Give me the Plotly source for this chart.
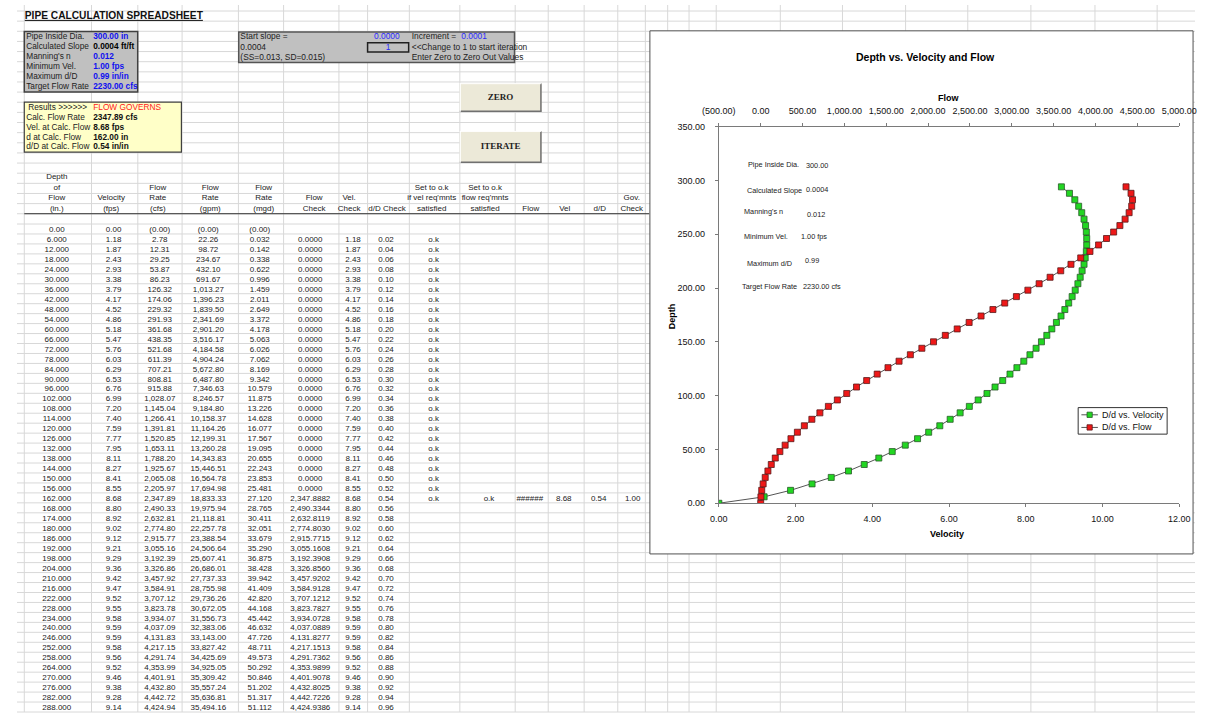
import plotly.graph_objects as go

W, H = 1213, 717

# ---------------- data ----------------
depth_in = [0, 6, 12, 18, 24, 30, 36, 42, 48, 54, 60, 66, 72, 78, 84, 90, 96, 102, 108, 114,
            120, 126, 132, 138, 144, 150, 156, 162, 168, 174, 180, 186, 192, 198, 204, 210,
            216, 222, 228, 234, 240, 246, 252, 258, 264, 270, 276, 282, 288, 294]
velocity_fps = [0.00, 1.18, 1.87, 2.43, 2.93, 3.38, 3.79, 4.17, 4.52, 4.86, 5.18, 5.47, 5.76,
                6.03, 6.29, 6.53, 6.76, 6.99, 7.20, 7.40, 7.59, 7.77, 7.95, 8.11, 8.27, 8.41,
                8.55, 8.68, 8.80, 8.92, 9.02, 9.12, 9.21, 9.29, 9.36, 9.42, 9.47, 9.52, 9.55,
                9.58, 9.59, 9.59, 9.58, 9.56, 9.52, 9.46, 9.38, 9.28, 9.14, 8.93]
flow_cfs = [0.00, 2.78, 12.31, 29.25, 53.87, 86.23, 126.32, 174.06, 229.32, 291.93, 361.68,
            438.35, 521.68, 611.39, 707.21, 808.81, 915.88, 1028.07, 1145.04, 1266.41, 1391.81,
            1520.85, 1653.11, 1788.20, 1925.67, 2065.08, 2205.97, 2347.89, 2490.33, 2632.81,
            2774.80, 2915.77, 3055.16, 3192.39, 3326.86, 3457.92, 3584.91, 3707.12, 3823.78,
            3934.07, 4037.09, 4131.83, 4217.15, 4291.74, 4353.99, 4401.91, 4432.80, 4442.72,
            4424.94, 4365.00]
flow_gpm = [0.00, 22.26, 98.72, 234.67, 432.10, 691.67, 1013.27, 1396.23, 1839.50, 2341.69,
            2901.20, 3516.17, 4184.58, 4904.24, 5672.80, 6487.80, 7346.63, 8246.57, 9184.80,
            10158.37, 11164.26, 12199.31, 13260.28, 14343.83, 15446.51, 16564.78, 17694.98,
            18833.33, 19975.94, 21118.81, 22257.78, 23388.54, 24506.64, 25607.41, 26686.01,
            27737.33, 28755.98, 29736.26, 30672.05, 31556.73, 32383.06, 33143.00, 33827.42,
            34425.69, 34925.05, 35309.42, 35557.24, 35636.81, 35494.16]
flow_mgd = [0.00, 0.032, 0.142, 0.338, 0.622, 0.996, 1.459, 2.011, 2.649, 3.372, 4.178, 5.063,
            6.026, 7.062, 8.169, 9.342, 10.579, 11.875, 13.226, 14.628, 16.077, 17.567, 19.095,
            20.655, 22.243, 23.853, 25.481, 27.120, 28.765, 30.411, 32.051, 33.679, 35.290,
            36.875, 38.428, 39.942, 41.409, 42.820, 44.168, 45.442, 46.632, 47.726, 48.711,
            49.573, 50.292, 50.846, 51.202, 51.317, 51.112]
flow_check_tail = [2347.8882, 2490.3344, 2632.8119, 2774.8030, 2915.7715, 3055.1608, 3192.3908,
                   3326.8560, 3457.9202, 3584.9128, 3707.1212, 3823.7827, 3934.0728, 4037.0889,
                   4131.8277, 4217.1513, 4291.7362, 4353.9899, 4401.9078, 4432.8025, 4442.7226,
                   4424.9386]
d_over_D = [0.02, 0.04, 0.06, 0.08, 0.10, 0.12, 0.14, 0.16, 0.18, 0.20, 0.22, 0.24, 0.26, 0.28,
            0.30, 0.32, 0.34, 0.36, 0.38, 0.40, 0.42, 0.44, 0.46, 0.48, 0.50, 0.52, 0.54, 0.56,
            0.58, 0.60, 0.62, 0.64, 0.66, 0.68, 0.70, 0.72, 0.74, 0.76, 0.78, 0.80, 0.82, 0.84,
            0.86, 0.88, 0.90, 0.92, 0.94, 0.96]
n_ok_rows = 27          # rows 6.000 .. 162.000 flagged "o.k"
gov_row_index = 27      # row 162.000
gov_row_values = ["o.k", "######", "8.68", "0.54", "1.00"]

series_names = ["D/d vs. Velocity", "D/d vs. Flow"]
velocity_ticks = [0, 2, 4, 6, 8, 10, 12]
flow_ticks = [-500, 0, 500, 1000, 1500, 2000, 2500, 3000, 3500, 4000, 4500, 5000]
flow_tick_text = ["(500.00)", "0.00", "500.00", "1,000.00", "1,500.00", "2,000.00", "2,500.00",
                  "3,000.00", "3,500.00", "4,000.00", "4,500.00", "5,000.00"]
depth_ticks = [0, 50, 100, 150, 200, 250, 300, 350]

input_labels = ["Pipe Inside Dia.", "Calculated Slope", "Manning's n", "Minimum Vel.",
                "Maximum d/D", "Target Flow Rate"]
input_values = ["300.00 in", "0.0004 ft/ft", "0.012", "1.00 fps", "0.99 in/in", "2230.00 cfs"]
input_value_colors = ["#1010f0", "#000000", "#1010f0", "#1010f0", "#1010f0", "#1010f0"]
result_labels = ["Calc. Flow Rate", "Vel. at Calc. Flow", "d at Calc. Flow", "d/D at Calc. Flow"]
result_values = ["2347.89 cfs", "8.68 fps", "162.00 in", "0.54 in/in"]
chart_note_labels = ["Pipe Inside Dia.", "Calculated Slope", "Manning's n", "Minimum Vel.",
                     "Maximum d/D", "Target Flow Rate"]
chart_note_values = ["300.00", "0.0004", "0.012", "1.00 fps", "0.99", "2230.00 cfs"]

FONT = "Liberation Sans, Arial, sans-serif"
GREEN, GREEN_EDGE = "#22d622", "#2a5a2a"
RED, RED_EDGE = "#ee1818", "#5a1a1a"
LINE = "#555555"

def px(x):
    return x / W

def py(y):
    return 1 - y / H

fig = go.Figure()

# ---------------- chart traces ----------------
fig.add_trace(go.Scatter(
    x=velocity_fps, y=depth_in, xaxis="x", yaxis="y", mode="lines+markers",
    name=series_names[0], showlegend=False,
    line=dict(color=LINE, width=1),
    marker=dict(symbol="square", size=6, color=GREEN, line=dict(color=GREEN_EDGE, width=0.8)),
    hoverinfo="skip"))
fig.add_trace(go.Scatter(
    x=flow_cfs, y=depth_in, xaxis="x2", yaxis="y", mode="lines+markers",
    name=series_names[1], showlegend=False,
    line=dict(color=LINE, width=1),
    marker=dict(symbol="square", size=6, color=RED, line=dict(color=RED_EDGE, width=0.8)),
    hoverinfo="skip"))

# ---------------- spreadsheet text (pixel-coordinate subplot) ----------------
def txt(xs, ys, texts, size=8, color="#111111", pos="middle center", family=FONT):
    fig.add_trace(go.Scatter(
        x=xs, y=ys, text=texts, mode="text", textposition=pos,
        textfont=dict(size=size, color=color, family=family),
        xaxis="x5", yaxis="y5", showlegend=False, hoverinfo="skip", cliponaxis=False))

# title
txt([8], [11.5], ["<b><u>PIPE CALCULATION SPREADSHEET</u></b>"], size=10.2, pos="middle right")

# input box
in_rows = [32.3, 42.5, 52.7, 62.6, 72.6, 82.8]
txt([9.5] * 6, in_rows, input_labels, size=8.3, color="#222222", pos="middle right")
for yv, tv, cv in zip(in_rows, input_values, input_value_colors):
    txt([78.5], [yv], ["<b>" + tv + "</b>"], size=8.3, color=cv, pos="middle right")

# results box
res_rows = [114.2, 124.3, 134.4, 144.4]
txt([11.5], [104.1], ["Results >>>>>>"], size=8.3, color="#222222", pos="middle right")
txt([78.5], [104.1], ["FLOW GOVERNS"], size=8.3, color="#ff2020", pos="middle right")
txt([9.5] * 4, res_rows, result_labels, size=8.3, color="#222222", pos="middle right")
txt([78.5] * 4, res_rows, ["<b>" + v + "</b>" for v in result_values], size=8.3,
    color="#111111", pos="middle right")

# middle box
txt([230] * 3, [32.7, 43.3, 53.4], ["Start slope =", "0.0004", "(SS=0.013, SD=0.015)"],
    size=8.4, color="#222222", pos="middle right")
txt([394], [32.7], ["0.0000"], size=8.4, color="#2a2aff", pos="middle left")
txt([382], [43.2], ["1"], size=8.4, color="#2a2aff")
txt([406.5], [32.7], ["Increment ="], size=8.4, color="#222222", pos="middle right")
txt([457.5], [32.7], ["0.0001"], size=8.4, color="#2a2aff", pos="middle right")
txt([406.5] * 2, [43.3, 53.4], ["<<Change to 1 to start iteration", "Enter Zero to Zero Out Values"],
    size=8.4, color="#222222", pos="middle right")

# buttons
txt([498, 498], [94, 144], ["<b>ZERO</b>", "<b>ITERATE</b>"], size=9,
    color="#222222", family="Liberation Serif, Times New Roman, serif")

# table header
hdr_y = [174.5, 185.2, 195.9, 206.4]
headers = [
    (41, ["Depth", "of", "Flow", "(in.)"]),
    (97, ["", "", "Velocity", "(fps)"]),
    (145, ["", "Flow", "Rate", "(cfs)"]),
    (199, ["", "Flow", "Rate", "(gpm)"]),
    (254, ["", "Flow", "Rate", "(mgd)"]),
    (306, ["", "", "Flow", "Check"]),
    (342, ["", "", "Vel.", "Check"]),
    (381, ["", "", "", "d/D Check"]),
    (427, ["", "Set to o.k", "if vel req'mnts", "satisfied"]),
    (482, ["", "Set to o.k", "flow req'mnts", "satisfied"]),
    (529, ["", "", "", "Flow"]),
    (564, ["", "", "", "Vel"]),
    (600, ["", "", "", "d/D"]),
    (633, ["", "", "Gov.", "Check"]),
]
for cx, lines in headers:
    ys = [y for y, t in zip(hdr_y, lines) if t]
    ts = [t for t in lines if t]
    txt([cx] * len(ts), ys, ts, size=8, color="#222222")

# table body
n_rows = len(flow_gpm)
row_y = [228.3 + 10.1 * i for i in range(n_rows)]
depth_txt = ["0.00"] + [f"{d:.3f}" for d in depth_in[1:n_rows]]
vel_txt = [f"{v:.2f}" for v in velocity_fps[:n_rows]]
cfs_txt = ["(0.00)"] + [f"{v:,.2f}" for v in flow_cfs[1:n_rows]]
gpm_txt = ["(0.00)"] + [f"{v:,.2f}" for v in flow_gpm[1:n_rows]]
mgd_txt = ["(0.00)"] + [f"{v:.3f}" for v in flow_mgd[1:n_rows]]
fchk_txt = [""] + ["0.0000"] * (gov_row_index - 1) + [f"{v:,.4f}" for v in flow_check_tail]
vchk_txt = [""] + vel_txt[1:]
dD_txt = [""] + [f"{v:.2f}" for v in d_over_D]
ok_txt = [""] + ["o.k"] * n_ok_rows + [""] * (n_rows - 1 - n_ok_rows)

cols = [(41, depth_txt), (99.5, vel_txt), (147, cfs_txt), (197, gpm_txt), (250, mgd_txt),
        (302, fchk_txt), (346, vchk_txt), (380, dD_txt), (429, ok_txt)]
for cx, col in cols:
    ys = [y for y, t in zip(row_y, col) if t]
    ts = [t for t in col if t]
    txt([cx] * len(ts), ys, ts, size=8, color="#222222")
txt([486, 528, 563, 599, 634], [row_y[gov_row_index]] * 5, gov_row_values, size=8, color="#222222")

# ---------------- shapes (paper coords) ----------------
shapes = []

def rect(x0, y0, x1, y1, fill, line_color=None, lw=1):
    shapes.append(dict(type="rect", xref="paper", yref="paper", x0=px(x0), x1=px(x1),
                       y0=py(y1), y1=py(y0), fillcolor=fill,
                       line=dict(color=line_color or fill, width=lw if line_color else 0),
                       layer="below"))

def hline(x0, x1, y, color, lw=1):
    shapes.append(dict(type="line", xref="paper", yref="paper", x0=px(x0), x1=px(x1),
                       y0=py(y), y1=py(y), line=dict(color=color, width=lw), layer="below"))

def vline(x, y0, y1, color, lw=1):
    shapes.append(dict(type="line", xref="paper", yref="paper", x0=px(x), x1=px(x),
                       y0=py(y0), y1=py(y1), line=dict(color=color, width=lw), layer="below"))

GRID = "#d8d8d8"
col_edges = [7.5, 76.7, 124.4, 170, 228, 274.5, 331.5, 361, 404, 456, 513, 547, 584, 618.6, 647,
             670, 692, 720, 786, 850, 915, 979, 1044, 1110, 1174]
row_edges = [6.1 + 10.28 * k for k in range(21)] + [212 + 10.1 * k for k in range(1, 51)]
for ye in row_edges:
    hline(0, W, ye, GRID)
for xe in col_edges:
    vline(xe, 0, H, GRID)

# input / result / control boxes
rect(7.5, 26.9, 124.3, 88.3, "#c0c0c0", "#404040", 1.5)
rect(7.5, 98.4, 169.3, 149.2, "#ffffc8", "#404040", 1.2)
rect(228.3, 27.3, 512.3, 58.3, "#c0c0c0", "#555555", 1.5)
rect(361, 38.3, 403.3, 47.7, "#c0c0c0", "#202020", 1.5)

# buttons
for (y0, y1) in [(79.3, 108.3), (127.7, 160)]:
    rect(456, y0, 540, y1, "#ece9d8")
    hline(456, 540, y1 - 0.5, "#707070", 1.5)
    vline(539.5, y0, y1, "#707070", 1.5)
    hline(456, 540, y0 + 0.5, "#ffffff", 1)
    vline(456.5, y0, y1, "#ffffff", 1)

# header underline
hline(7.5, 651, 211.7, "#303030", 1)

# chart frame
rect(651.7, 26.2, 1211, 556.7, "#ffffff", "#505050", 1)

# ---------------- legend (drawn as a small boxed key) ----------------
LEG_X0, LEG_Y0, LEG_X1, LEG_Y1 = 1092.7, 408.3, 1184.3, 435.2
rect(LEG_X0, LEG_Y0, LEG_X1, LEG_Y1, "#ffffff", "#333333", 1)
leg_rows = [415.6, 428.4]
for ly, fill, edge in zip(leg_rows, [GREEN, RED], [GREEN_EDGE, RED_EDGE]):
    shapes.append(dict(type="line", xref="paper", yref="paper", x0=px(1096), x1=px(1113),
                       y0=py(ly), y1=py(ly), line=dict(color=LINE, width=1), layer="above"))
    shapes.append(dict(type="rect", xref="paper", yref="paper", x0=px(1101.8), x1=px(1107.2),
                       y0=py(ly + 2.7), y1=py(ly - 2.7), fillcolor=fill,
                       line=dict(color=edge, width=0.8), layer="above"))

# ---------------- annotations ----------------
ann = []

def note(x, y, text, size=8, anchor="left", bold=False, angle=0, color="#222222"):
    ann.append(dict(x=px(x), y=py(y), xref="paper", yref="paper", showarrow=False,
                    text=("<b>" + text + "</b>") if bold else text, xanchor=anchor,
                    yanchor="middle", textangle=angle,
                    font=dict(size=size, family=FONT, color=color)))

note(935, 52.5, "Depth vs. Velocity and Flow", size=10.5, anchor="center", bold=True, color="#000")
note(959, 94, "Flow", size=9, anchor="center", bold=True, color="#000")
note(958, 536, "Velocity", size=9, anchor="center", bold=True, color="#000")
note(674, 316, "Depth", size=9, anchor="center", bold=True, angle=-90, color="#000")

for ly, name in zip(leg_rows, series_names):
    note(1115.5, ly, name, size=9, color="#111111")

lab_pos = [(750.5, 161.7), (750, 187.7), (746.7, 209.3), (746.7, 234.3), (750, 262.3), (744, 285)]
val_pos = [(810, 162.5), (810.5, 187.3), (811.7, 212.7), (805, 235), (809, 259), (807.3, 285)]
for (lx, ly), t in zip(lab_pos, chart_note_labels):
    note(lx, ly, t, size=7.3)
for (vx, vy), t in zip(val_pos, chart_note_values):
    note(vx, vy, t, size=7.3)

# ---------------- layout ----------------
xdom = [px(722.7), px(1196.7)]
ydom = [py(505.3), py(123.3)]
AX = "#7a7a7a"
tickfont = dict(size=9, family=FONT, color="#111111")

fig.update_layout(
    width=W, height=H, margin=dict(l=0, r=0, t=0, b=0),
    paper_bgcolor="#ffffff", plot_bgcolor="rgba(0,0,0,0)",
    showlegend=False,
    xaxis=dict(domain=xdom, range=[0, 12], anchor="y", tickvals=velocity_ticks,
               tickformat=".2f", ticks="outside", ticklen=3, tickcolor=AX,
               showline=True, linecolor=AX, linewidth=1, showgrid=False, zeroline=False,
               tickfont=tickfont, ticklabelstandoff=4),
    xaxis2=dict(range=[-500, 5000], overlaying="x", side="top", anchor="y",
                tickvals=flow_ticks, ticktext=flow_tick_text, ticks="outside", ticklen=3,
                tickcolor=AX, showline=True, linecolor=AX, linewidth=1, showgrid=False,
                zeroline=False, tickfont=tickfont, ticklabelstandoff=5),
    xaxis3=dict(range=[0, 12], overlaying="x", anchor="y", tickvals=velocity_ticks,
                ticks="inside", ticklen=3, tickcolor=AX, showticklabels=False,
                showline=False, showgrid=False, zeroline=False),
    xaxis4=dict(range=[-500, 5000], overlaying="x", side="top", anchor="y",
                tickvals=flow_ticks, ticks="inside", ticklen=3, tickcolor=AX,
                showticklabels=False, showline=False, showgrid=False, zeroline=False),
    yaxis=dict(domain=ydom, range=[0, 350], anchor="x", tickvals=depth_ticks,
               tickformat=".2f", ticks="outside", ticklen=3, tickcolor=AX,
               showline=True, linecolor=AX, linewidth=1, showgrid=False, zeroline=False,
               tickfont=tickfont, ticklabelstandoff=8),
    yaxis2=dict(range=[0, 350], overlaying="y", anchor="x", side="left", tickvals=depth_ticks,
                ticks="inside", ticklen=3, tickcolor=AX, showticklabels=False,
                showline=False, showgrid=False, zeroline=False),
    xaxis5=dict(domain=[0, 1], range=[0, W], anchor="y5", visible=False, fixedrange=True),
    yaxis5=dict(domain=[0, 1], range=[H, 0], anchor="x5", visible=False, fixedrange=True),
    shapes=shapes,
    annotations=ann,
)

fig.write_html("out.html")
